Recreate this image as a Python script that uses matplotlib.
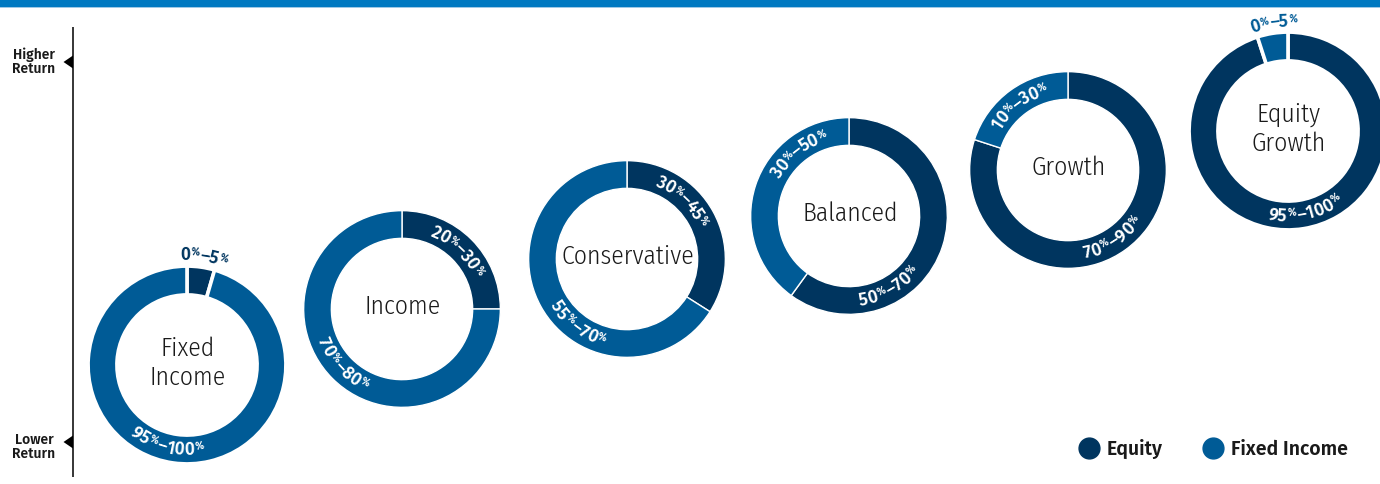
import matplotlib
matplotlib.use('Agg')
import os
import matplotlib.pyplot as plt
from matplotlib.font_manager import FontProperties, findfont, get_font, fontManager
from matplotlib.lines import Line2D
import numpy as np

# ---------------- data ----------------
portfolios = ['Fixed\nIncome', 'Income', 'Conservative', 'Balanced', 'Growth', 'Equity\nGrowth']
equity_share = [4.5, 25, 34, 60, 80, 95]
fixed_share = [95.5, 75, 66, 40, 20, 5]
equity_labels = ['0%–5%', '20%–30%', '30%–45%', '50%–70%', '70%–90%', '95%–100%']
fixed_labels = ['95%–100%', '70%–80%', '55%–70%', '30%–50%', '10%–30%', '0%–5%']
legend_labels = ['Equity', 'Fixed Income']

# ---------------- layout / style ----------------
W_PX, H_PX = 1380, 484
NAVY = '#00355F'
BLUE = '#005B96'
BAND = '#0079C1'
TXT = '#1a1a1a'

cx_px = [187, 402, 627, 849, 1068, 1288]
cy_px = [365, 309, 259, 216, 170, 131]
R_OUT, RING = 98, 27
eq_place = [(80.8, 111, 'top'), (46, 84, 'top'), (46, 84, 'top'),
            (-60.5, 84, 'bottom'), (-56.7, 84, 'bottom'), (-77.5, 84, 'bottom')]
fi_place = [(256, 84, 'bottom'), (223.5, 84, 'bottom'), (233.3, 84, 'bottom'),
            (128.3, 84, 'top'), (126.7, 84, 'top'), (97.3, 110, 'top')]
eq_outside = [True, False, False, False, False, False]
fi_outside = [False, False, False, False, False, True]


def _w(f):
    try:
        return int(f.weight)
    except (TypeError, ValueError):
        return {'light': 300, 'normal': 400, 'regular': 400, 'medium': 500,
                'semibold': 600, 'bold': 700}.get(str(f.weight).lower(), 400)


def find_font(prefs, fallback):
    for name, w in prefs:
        for f in fontManager.ttflist:
            if (f.name == name and f.style == 'normal' and _w(f) == w
                    and '[' not in os.path.basename(f.fname)
                    and f.fname.lower().endswith(('.ttf', '.otf'))):
                return f.fname
    return findfont(fallback)


COND_FILE = find_font([('Fira Sans Condensed', 300), ('Fira Sans Condensed Light', 300),
                       ('IBM Plex Sans Condensed', 300), ('Open Sans Condensed', 300),
                       ('Roboto Condensed', 300), ('Noto Sans Condensed', 300),
                       ('Fira Sans Extra Condensed', 300)],
                      FontProperties(family='DejaVu Sans', stretch='condensed'))
BOLD_FILE = find_font([('Fira Sans', 600), ('Fira Sans SemiBold', 600), ('Fira Sans', 500),
                       ('Open Sans', 600), ('Noto Sans', 600)],
                      FontProperties(family='Liberation Sans', weight='bold'))


def fprop(path, size):
    return FontProperties(fname=path, size=size)


fig = plt.figure(figsize=(W_PX / 100, H_PX / 100), dpi=100)
ax = fig.add_axes([0, 0, 1, 1])


def Y(y):
    return H_PX - y


def arc_label(cx, cy, r, ang, text, style, color, size=12.5):
    font = get_font(BOLD_FILE)
    pieces = []
    for ch in text:
        sup = ch == '%'
        s = size * 0.6 if sup else size
        font.set_size(s, 100)
        g = font.load_char(ord(ch))
        adv = g.linearHoriAdvance / 65536
        if sup:
            adv += 1.5
        pieces.append((ch, s, sup, adv))
    total = sum(p[3] for p in pieces)
    cap = size * 100 / 72 * 0.70
    sign = -1 if style == 'top' else 1
    a0 = np.radians(ang) - sign * total / 2 / r
    cum = 0.0
    for ch, s, sup, adv in pieces:
        a = a0 + sign * (cum + adv / 2) / r
        cum += adv
        if style == 'top':
            rb = r - cap / 2 + (cap * 0.42 if sup else 0)
            rot = np.degrees(a) - 90
        else:
            rb = r + cap / 2 - (cap * 0.42 if sup else 0)
            rot = np.degrees(a) + 90
        ax.text(cx + rb * np.cos(a), cy + rb * np.sin(a), ch,
                fontproperties=fprop(BOLD_FILE, s),
                rotation=rot, rotation_mode='anchor', ha='center', va='baseline',
                color=color)


for i, name in enumerate(portfolios):
    cx, cy = cx_px[i], Y(cy_px[i])
    small = min(equity_share[i], fixed_share[i]) < 10
    lw = 2.6 if small else 1.0
    ax.pie([equity_share[i], fixed_share[i]], colors=[NAVY, BLUE], startangle=90,
           counterclock=False, center=(cx, cy), radius=R_OUT + lw * 0.35,
           wedgeprops=dict(width=RING + lw * 0.7, edgecolor='white', linewidth=lw),
           frame=True)
    ang, r, st = eq_place[i]
    arc_label(cx, cy, r, ang, equity_labels[i], st, NAVY if eq_outside[i] else 'white')
    ang, r, st = fi_place[i]
    arc_label(cx, cy, r, ang, fixed_labels[i], st, BLUE if fi_outside[i] else 'white')
    ax.text(cx + 1, cy + 2, name, ha='center', va='center', fontproperties=fprop(COND_FILE, 18.5),
            color=TXT, linespacing=1.22, multialignment='center')

ax.set_xlim(0, W_PX)
ax.set_ylim(0, H_PX)
ax.set_aspect('equal', adjustable='box')
ax.axis('off')

# top band
ax.axhspan(Y(7), H_PX, color=BAND, lw=0)
ax.axhspan(Y(8), Y(7), color='#9fc9e6', lw=0)

# vertical return axis
ax.plot([73, 73], [Y(27), Y(477)], color='black', lw=1.1, solid_capstyle='butt')
for yy in (62, 442):
    ax.fill([73, 63.5, 73], [Y(yy - 6.5), Y(yy), Y(yy + 6.5)], color='black', lw=0)
ax.text(34, Y(62), 'Higher\nReturn', ha='center', va='center',
        fontproperties=fprop(BOLD_FILE, 10), color=TXT, linespacing=1.0)
ax.text(34, Y(447), 'Lower\nReturn', ha='center', va='center',
        fontproperties=fprop(BOLD_FILE, 10), color=TXT, linespacing=1.0)

# legend
handles = [Line2D([], [], marker='o', ls='', color=c, ms=15, label=l)
           for c, l in zip([NAVY, BLUE], legend_labels)]
ax.legend(handles=handles, loc='center right', bbox_to_anchor=(1348 / W_PX, 35 / H_PX),
          frameon=False, ncol=2, prop=fprop(BOLD_FILE, 14),
          handlelength=1.0, handletextpad=0.45, columnspacing=2.05, borderaxespad=0,
          borderpad=0, labelcolor=TXT)

fig.savefig('out.png', dpi=100)
